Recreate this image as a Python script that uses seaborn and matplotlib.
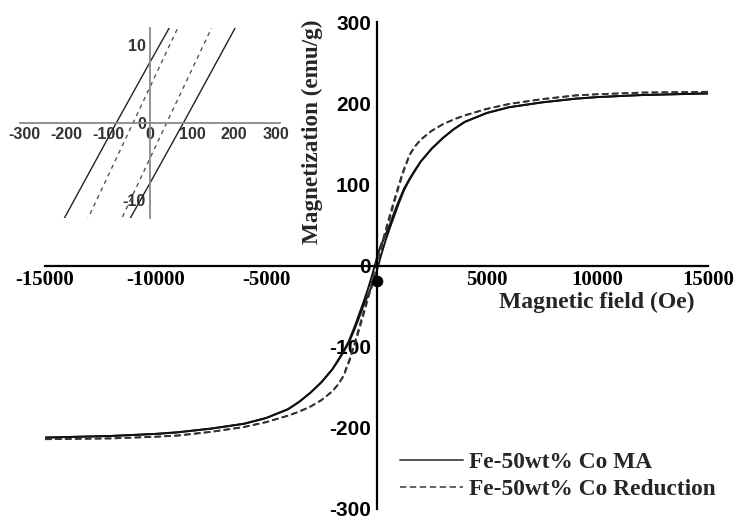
import numpy as np
import pandas as pd
import matplotlib
matplotlib.use("Agg")
import matplotlib.pyplot as plt
from matplotlib.lines import Line2D
from matplotlib.ticker import MultipleLocator, FixedLocator
import seaborn as sns

# ---- hysteresis loop data (field in Oe, magnetization in emu/g) ----
# Fe-50wt% Co, mechanical alloying: ascending branch
h_asc_ma = [-15000, -12000, -10000, -9000, -7500, -6000, -5000, -4000, -3500,
            -3000, -2500, -2000, -1750, -1500, -1250, -1000, -800, -600, -300,
            -150, -50, 0, 80, 205, 400, 600, 800, 1000, 1250, 1500, 1750,
            2000, 2500, 3000, 3500, 4000, 5000, 6000, 7500, 9000, 10000,
            12000, 15000]
m_asc_ma = [-212, -210, -207.5, -205.5, -201, -195, -188, -177, -168,
            -157, -144, -128, -118, -107, -95, -79, -65, -50, -31,
            -21, -12.6, -7.8, 0, 12.4, 30, 46, 61, 76, 93, 106, 117,
            128, 144, 157, 168, 177, 188, 195, 201, 205.5, 207.5,
            210, 212]
# Fe-50wt% Co, mechanical alloying: descending branch
h_desc_ma = [15000, 12000, 10000, 9000, 7500, 6000, 5000, 4000, 3500,
             3000, 2500, 2000, 1750, 1500, 1250, 1000, 800, 600, 300,
             150, 50, 0, -80, -205, -400, -600, -800, -1000, -1250, -1500,
             -1750, -2000, -2500, -3000, -3500, -4000, -5000, -6000, -7500,
             -9000, -10000, -12000, -15000]
m_desc_ma = [212, 210, 207.5, 205.5, 201, 195, 188, 177, 168,
             157, 144, 128, 118, 107, 95, 79, 65, 50, 31,
             21, 12.6, 7.8, 0, -12.4, -30, -46, -61, -76, -93, -106,
             -117, -128, -144, -157, -168, -177, -188, -195, -201,
             -205.5, -207.5, -210, -212]

# Fe-50wt% Co, reduction: ascending branch
h_asc_red = [-15000, -12000, -10000, -9000, -7500, -6000, -5000, -4500, -4000,
             -3500, -3000, -2500, -2000, -1750, -1500, -1200, -900, -600,
             -300, -150, -60, 0, 40, 145, 300, 600, 900, 1200, 1500, 1750,
             2000, 2500, 3000, 3500, 4000, 4500, 5000, 6000, 7500, 9000,
             10000, 12000, 15000]
m_asc_red = [-214, -213, -211, -209.5, -205, -199, -193, -189, -185,
             -180, -174, -166, -155, -147, -137, -116, -90, -62,
             -33, -22, -11.5, -4.6, 0, 12, 30, 58, 87, 114, 136, 147,
             155, 166, 174, 180, 185, 189, 193, 199, 205, 209.5,
             211, 213, 214]
# Fe-50wt% Co, reduction: descending branch
h_desc_red = [15000, 12000, 10000, 9000, 7500, 6000, 5000, 4500, 4000,
              3500, 3000, 2500, 2000, 1750, 1500, 1200, 900, 600,
              300, 150, 60, 0, -40, -145, -300, -600, -900, -1200, -1500,
              -1750, -2000, -2500, -3000, -3500, -4000, -4500, -5000, -6000,
              -7500, -9000, -10000, -12000, -15000]
m_desc_red = [214, 213, 211, 209.5, 205, 199, 193, 189, 185,
              180, 174, 166, 155, 147, 137, 116, 90, 62,
              33, 22, 11.5, 4.6, 0, -12, -30, -58, -87, -114, -136,
              -147, -155, -166, -174, -180, -185, -189, -193, -199,
              -205, -209.5, -211, -213, -214]

sample_labels = ["Fe-50wt% Co MA", "Fe-50wt% Co Reduction"]
origin_dot_h = [0]
origin_dot_m = [-19]

x_ticks = [-15000, -10000, -5000, 5000, 10000, 15000]
y_ticks = [-300, -200, -100, 0, 100, 200, 300]
inset_x_ticks = [-300, -200, -100, 0, 100, 200, 300]
inset_y_ticks = [-10, 0, 10]

# ---- long-form table ----
frames = []
for lab, br, h, m in [
    (sample_labels[0], "asc", h_asc_ma, m_asc_ma),
    (sample_labels[0], "desc", h_desc_ma, m_desc_ma),
    (sample_labels[1], "asc", h_asc_red, m_asc_red),
    (sample_labels[1], "desc", h_desc_red, m_desc_red),
]:
    frames.append(pd.DataFrame({"H": h, "M": m, "sample": lab, "branch": br}))
df = pd.concat(frames, ignore_index=True)

sns.set_style("white")
plt.rcParams["font.family"] = ["Liberation Serif", "DejaVu Serif"]

fig = plt.figure(figsize=(7.36, 5.2), dpi=100)
ax = fig.add_axes([45 / 736, 11 / 520, 663 / 736, 487 / 520])

styles = {
    sample_labels[0]: dict(color="#111111", lw=1.4, dashes=None),
    sample_labels[1]: dict(color="#333333", lw=1.3, dashes=(3.5, 2.0)),
}

for (lab, br), sub in df.groupby(["sample", "branch"], sort=False):
    st = styles[lab]
    sns.lineplot(data=sub, x="H", y="M", ax=ax, sort=False,
                 estimator=None, color=st["color"], lw=st["lw"],
                 legend=False)
    if st["dashes"] is not None:
        ax.lines[-1].set_dashes(st["dashes"])

sns.scatterplot(x=origin_dot_h, y=origin_dot_m, ax=ax, color="black",
                s=60, edgecolor="black", zorder=5, legend=False)

ax.set_xlim(-15000, 15000)
ax.set_ylim(-300, 300)

# axes crossing at the origin
for side in ["top", "right"]:
    ax.spines[side].set_visible(False)
ax.spines["left"].set_position(("data", 0))
ax.spines["bottom"].set_position(("data", 0))
for side in ["left", "bottom"]:
    ax.spines[side].set_linewidth(1.6)
    ax.spines[side].set_color("black")

ax.xaxis.set_major_locator(FixedLocator(x_ticks))
ax.xaxis.set_minor_locator(MultipleLocator(2500))
ax.yaxis.set_major_locator(FixedLocator(y_ticks))
ax.yaxis.set_minor_locator(MultipleLocator(50))
ax.tick_params(axis="x", which="major", direction="in", length=3, width=1.2,
               pad=3, colors="black")
ax.tick_params(axis="x", which="minor", direction="in", length=2, width=1)
ax.tick_params(axis="y", which="major", direction="out", length=3, width=1.2,
               pad=1, colors="black")
ax.tick_params(axis="y", which="minor", direction="in", length=2, width=1)
ax.set_xticklabels([str(v) for v in x_ticks], fontweight="bold",
                   family=["Liberation Serif"], fontsize=15)
ax.set_yticklabels([str(v) for v in y_ticks], fontweight="bold",
                   family=["Liberation Sans"], fontsize=15)
ax.set_xlabel("")
ax.set_ylabel("")

fig.text(312 / 736, 1 - 132 / 520, "Magnetization (emu/g)", rotation=90,
         ha="center", va="center", fontsize=16.7, fontweight="bold")
fig.text(597 / 736, 1 - 302 / 520, "Magnetic field (Oe)",
         ha="center", va="center", fontsize=17, fontweight="bold")

handles = [
    Line2D([], [], color="#555555", lw=1.4),
    Line2D([], [], color="#555555", lw=1.3, dashes=(3.5, 2.0)),
]
fig.legend(handles, sample_labels, loc="center left",
           bbox_to_anchor=(400 / 736, 1 - 476 / 520), frameon=False,
           borderpad=0, borderaxespad=0, handlelength=2.7,
           handletextpad=0.26, labelspacing=0.22,
           prop=dict(family="Liberation Serif", weight="bold", size=16.8))

# ---- inset: low-field region of the loops ----
ins = fig.add_axes([20 / 736, 1 - 218 / 520, 260 / 736, 190 / 520])
ins.set_facecolor("none")
for (lab, br), sub in df.groupby(["sample", "branch"], sort=False):
    st = styles[lab]
    sns.lineplot(data=sub, x="H", y="M", ax=ins, sort=False, estimator=None,
                 color="#222222" if st["dashes"] is None else "#555555",
                 lw=1.0, legend=False)
    if st["dashes"] is not None:
        ins.lines[-1].set_dashes((3, 3))
ins.set_xlim(-310, 310)
ins.set_ylim(-12.3, 12.2)
for side in ["top", "right"]:
    ins.spines[side].set_visible(False)
ins.spines["left"].set_position(("data", 0))
ins.spines["bottom"].set_position(("data", 0))
for side in ["left", "bottom"]:
    ins.spines[side].set_linewidth(1.3)
    ins.spines[side].set_color("#8a8a8a")
ins.xaxis.set_major_locator(FixedLocator(inset_x_ticks))
ins.yaxis.set_major_locator(FixedLocator(inset_y_ticks))
ins.tick_params(axis="both", which="major", length=2, width=1,
                colors="#8a8a8a", pad=1)
ins.set_xticklabels([str(v) for v in inset_x_ticks], fontweight="bold",
                    family=["Liberation Sans"], fontsize=11.5, color="#333333")
ins.set_yticklabels([str(v) for v in inset_y_ticks], fontweight="bold",
                    family=["Liberation Sans"], fontsize=11.5, color="#333333")
ins.set_xlabel("")
ins.set_ylabel("")

fig.savefig("out.png", dpi=100, facecolor="white")
